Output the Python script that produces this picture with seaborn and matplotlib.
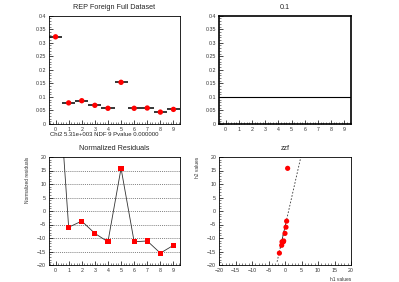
import numpy as np
import pandas as pd
import seaborn as sns
import matplotlib.pyplot as plt
from matplotlib.ticker import MultipleLocator, AutoMinorLocator

sns.set_style('ticks')
plt.rcParams['font.family'] = ['Liberation Sans', 'DejaVu Sans']

# data
bins = [0, 1, 2, 3, 4, 5, 6, 7, 8, 9]
fractions = [0.322, 0.078, 0.086, 0.069, 0.058, 0.154, 0.058, 0.059, 0.044, 0.054]
reference_value = 0.1
residuals = [64.5, -6.0, -3.75, -8.3, -11.4, 15.8, -11.4, -11.1, -15.6, -12.7]
qq_h1 = [-1.7, -1.0, -0.9, -0.5, -0.4, 0.0, 0.3, 0.5, 0.8]
qq_h2 = [-15.6, -12.7, -11.4, -11.4, -11.1, -8.3, -6.0, -3.75, 15.8]
qq_line_x = [-2.4, 4.8]
qq_line_y = [-18.8, 20.0]
qq_solid_x = [-1.45, 0.4]
qq_solid_y = [-13.7, -3.7]
chi2_text = 'Chi2 5.31e+003 NDF 9 Pvalue 0.000000'

df = pd.DataFrame({'bin': bins, 'frac': fractions, 'res': residuals})
qq = pd.DataFrame({'h1': qq_h1, 'h2': qq_h2})

fig = plt.figure(figsize=(3.99, 2.82), dpi=100)
L1, R1 = 49 / 399, 180 / 399
L2, R2 = 219 / 399, 351 / 399
B_top, T_top = 1 - 124 / 282, 1 - 15.7 / 282
B_bot, T_bot = 1 - 265 / 282, 1 - 157 / 282
ax1 = fig.add_axes([L1, B_top, R1 - L1, T_top - B_top])
ax2 = fig.add_axes([L2, B_top, R2 - L2, T_top - B_top])
ax3 = fig.add_axes([L1, B_bot, R1 - L1, T_bot - B_bot])
ax4 = fig.add_axes([L2, B_bot, R2 - L2, T_bot - B_bot])

def root_style(ax, xmaj, ymaj, xmin_n=5, ymin_n=5, lw=0.6):
    for s in ax.spines.values():
        s.set_linewidth(lw)
        s.set_color('black')
        s.set_visible(True)
    ax.xaxis.set_major_locator(MultipleLocator(xmaj))
    ax.yaxis.set_major_locator(MultipleLocator(ymaj))
    ax.xaxis.set_minor_locator(AutoMinorLocator(xmin_n))
    ax.yaxis.set_minor_locator(AutoMinorLocator(ymin_n))
    ax.tick_params(which='major', direction='in', length=3, width=0.5,
                   labelsize=3.8, pad=2, colors='black', labelcolor='#333333')
    ax.tick_params(which='minor', direction='in', length=1.5, width=0.4)
    ax.set_xlabel('')
    ax.set_ylabel('')

# top left: fractions with bin-width error bars
ax1.errorbar(df['bin'], df['frac'], xerr=0.5, fmt='none', ecolor='black',
             elinewidth=1.1, capsize=0)
sns.scatterplot(data=df, x='bin', y='frac', ax=ax1, color='#ff0000', s=15,
                edgecolor='none', zorder=3)
ax1.set_xlim(-0.5, 9.5)
ax1.set_ylim(0, 0.4)
root_style(ax1, 1, 0.05)
ax1.set_yticklabels([f'{v:g}' for v in ax1.get_yticks()])
ax1.set_title('REP Foreign Full Dataset', fontsize=5.2, pad=5)
fig.text(50 / 399, 1 - 134 / 282, chi2_text, fontsize=4.3, va='center', color='#222222')

# top right: reference value
ax2.axhline(reference_value, color='black', lw=0.8)
ax2.set_xlim(-0.5, 9.5)
ax2.set_ylim(0, 0.4)
root_style(ax2, 1, 0.05, lw=1.2)
ax2.set_yticklabels([f'{v:g}' for v in ax2.get_yticks()])
ax2.set_title('0.1', fontsize=5.2, pad=5)

# bottom left: normalized residuals
for g in [-15, -10, -5, 0, 5, 10, 15]:
    ax3.axhline(g, color='#555555', lw=0.5, ls=(0, (1.5, 1.5)), zorder=0)
sns.lineplot(data=df, x='bin', y='res', ax=ax3, color='#333333', lw=0.6)
sns.scatterplot(data=df, x='bin', y='res', ax=ax3, color='#ff0000', marker='s',
                s=14, edgecolor='none', zorder=3)
ax3.set_xlim(-0.5, 9.5)
ax3.set_ylim(-20, 20)
root_style(ax3, 1, 5)
ax3.set_title('Normalized Residuals', fontsize=5.2, pad=5)
ax3.set_ylabel('Normalized residuals', fontsize=3.5, labelpad=5, loc='top', color='#333333')

# bottom right: QQ plot
ax4.plot(qq_line_x, qq_line_y, color='#333333', lw=0.6, ls=(0, (2, 2)))
ax4.plot(qq_solid_x, qq_solid_y, color='#333333', lw=0.6)
sns.scatterplot(data=qq, x='h1', y='h2', ax=ax4, color='#ff0000', s=14,
                edgecolor='none', zorder=3)
ax4.set_xlim(-20, 20)
ax4.set_ylim(-20, 20)
root_style(ax4, 5, 5)
ax4.set_title('zzf', fontsize=5.2, pad=5)
ax4.set_ylabel('h2 values', fontsize=3.5, labelpad=5, loc='top', color='#333333')
ax4.set_xlabel('h1 values', fontsize=3.5, labelpad=3, loc='right', color='#333333')

fig.savefig('out.png', dpi=100)
